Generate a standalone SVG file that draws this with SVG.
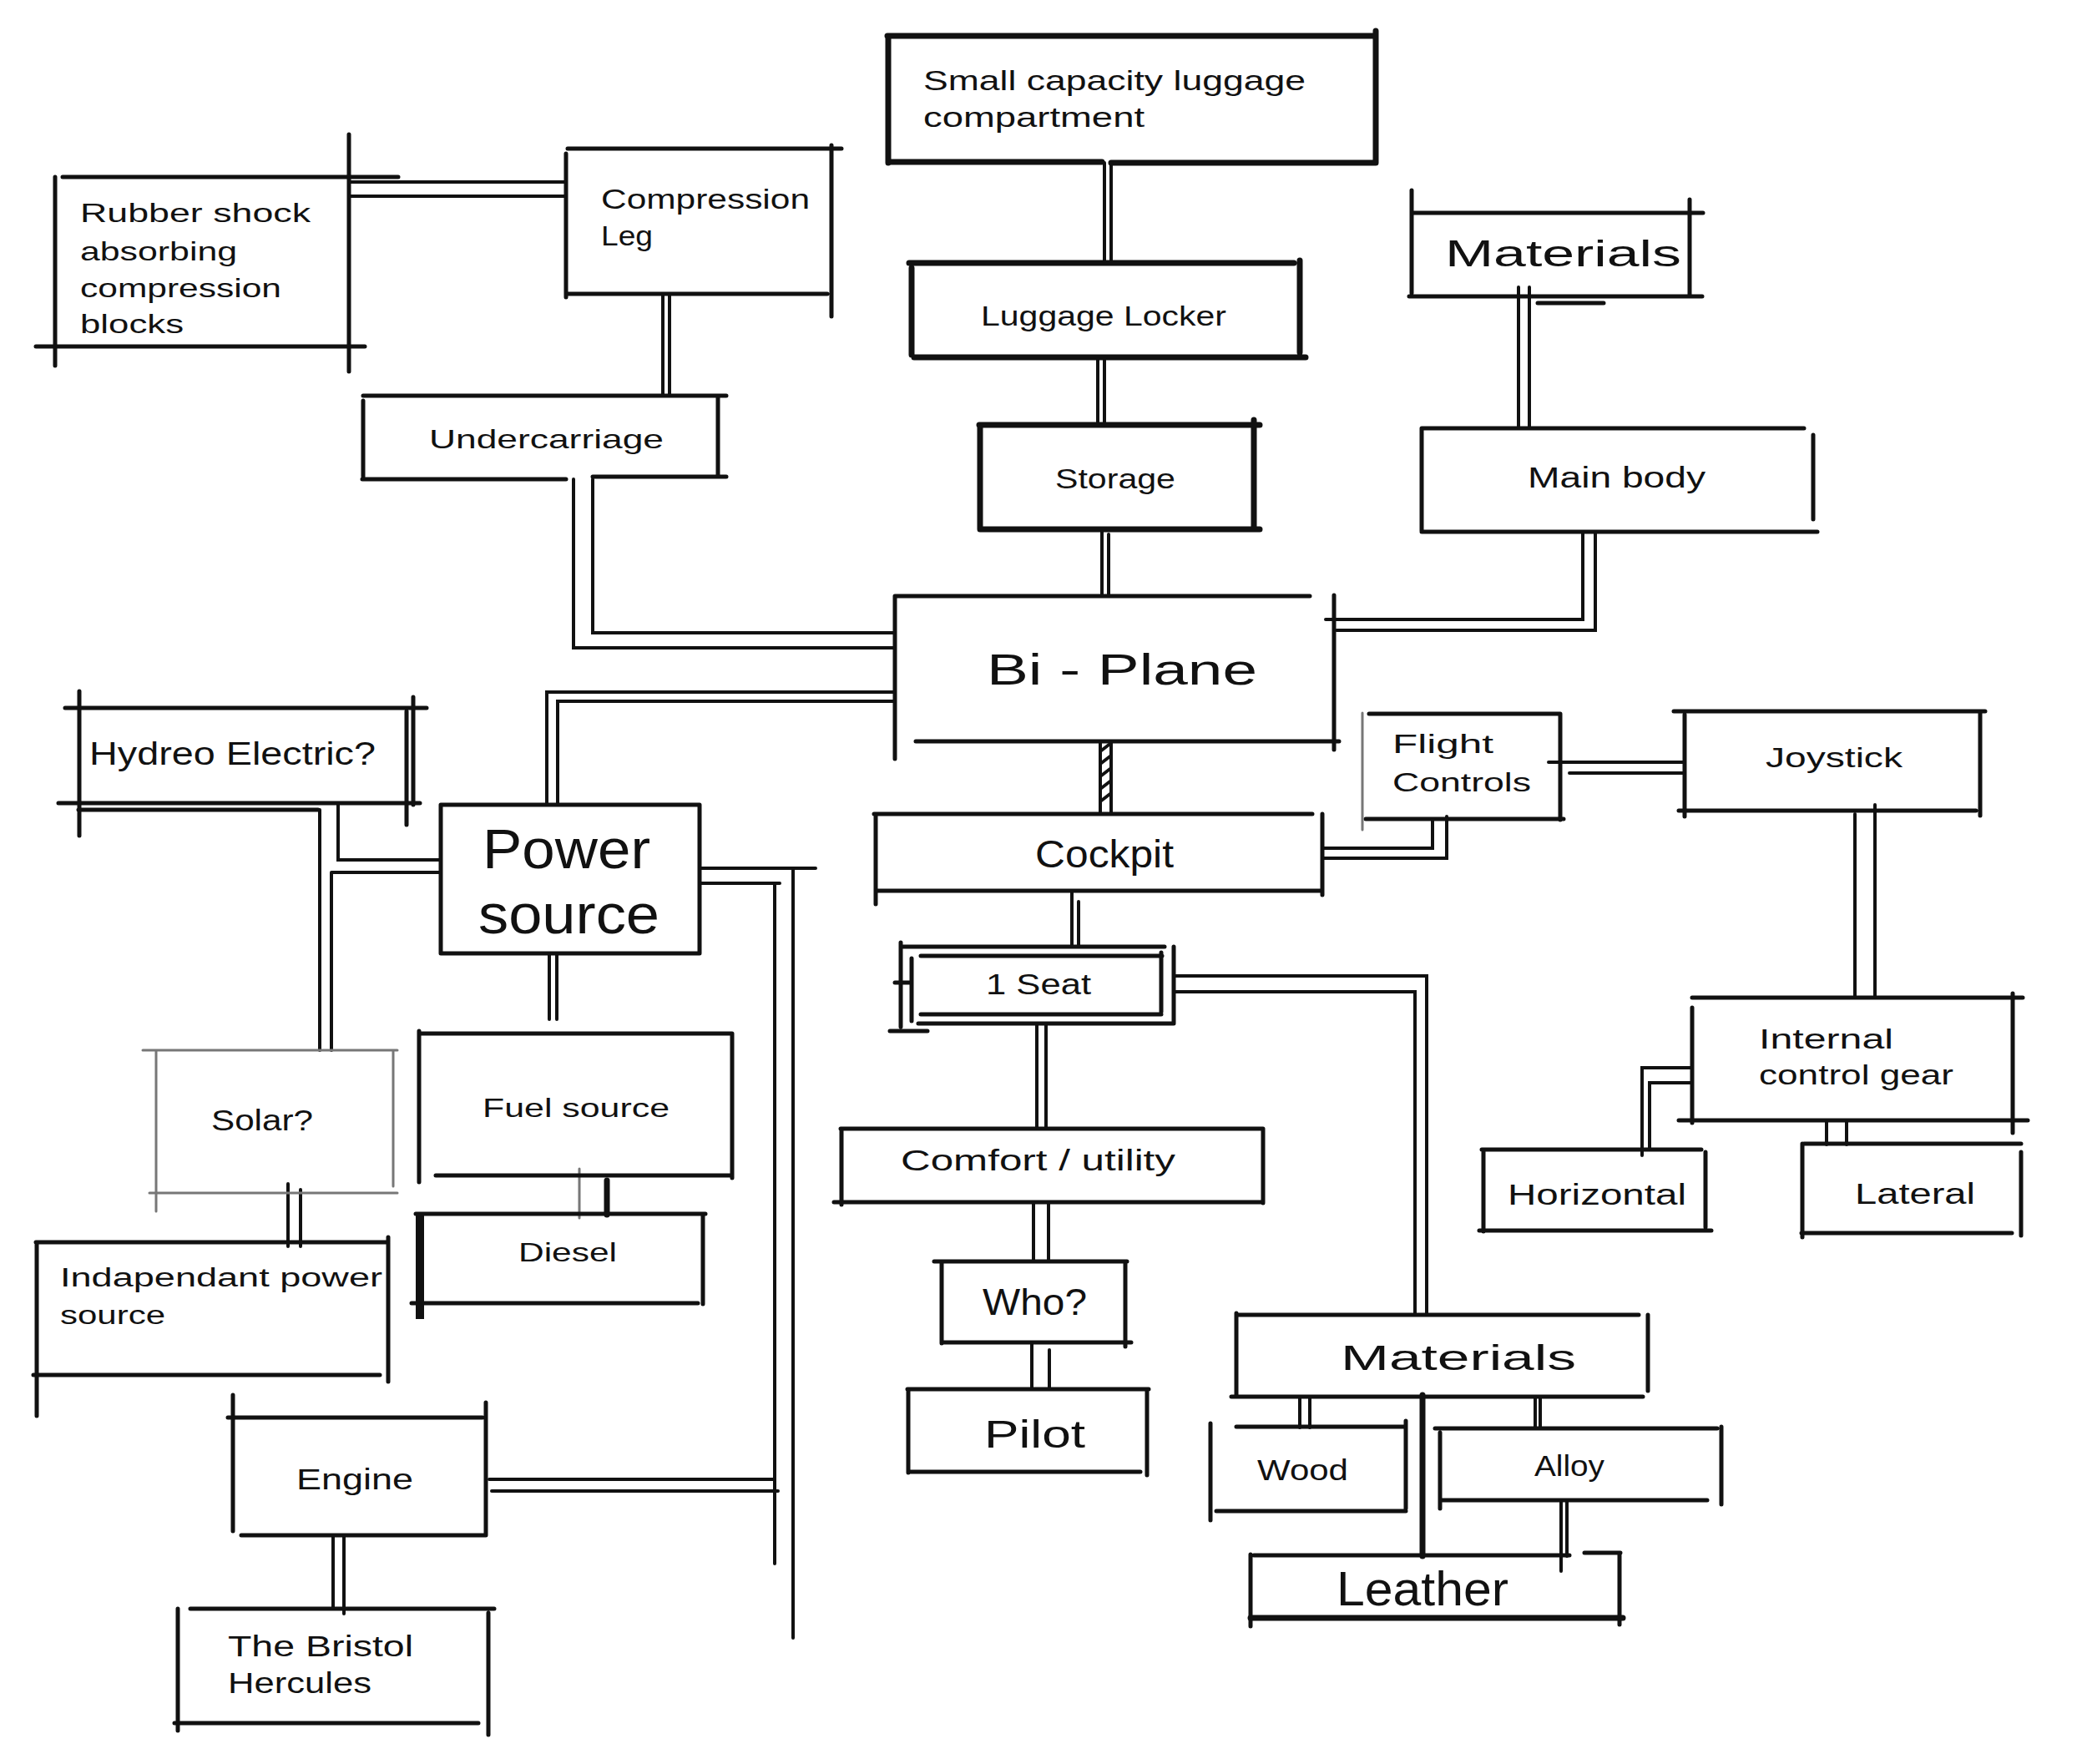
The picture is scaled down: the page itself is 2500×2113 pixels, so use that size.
<svg xmlns="http://www.w3.org/2000/svg" width="2500" height="2113" viewBox="0 0 2500 2113">
<style>
.l{stroke:#111;stroke-width:5;stroke-linecap:round;fill:none}
.k{stroke:#111;stroke-width:7;stroke-linecap:round;fill:none}
.g{stroke:#777;stroke-width:3;stroke-linecap:round;fill:none}
.c{stroke:#111;stroke-width:4;stroke-linecap:round;fill:none}
.t{font-family:"Liberation Sans","DejaVu Sans",sans-serif;fill:#111}
</style>
<rect width="2500" height="2113" fill="#fff"/>
<g id="connectors">
<path class="c" d="M418 218 H676 M420 235 H676"/>
<path class="c" d="M794 352 V473 M802 352 V473"/>
<path class="c" d="M710 574 V758 H1072 M687 574 V776 H1072"/>
<path class="c" d="M655 962 V829 H1072 M668 962 V840 H1072"/>
<path class="c" d="M1323 195 V315 M1331 195 V315"/>
<path class="c" d="M1315 428 V507 M1323 428 V507"/>
<path class="c" d="M1320 634 V714 M1328 640 V714"/>
<path class="c" d="M1819 344 V513 M1832 344 V513"/>
<path class="c" d="M1896 637 V742 H1588 M1911 637 V755 H1601"/>
<path class="c" d="M1318 890 V975 M1331 888 V975 M1318 900 L1331 890 M1318 915 L1331 905 M1318 930 L1331 920 M1318 945 L1331 935 M1318 960 L1331 950"/>
<path class="c" d="M1284 1067 V1134 M1292 1080 V1134"/>
<path class="c" d="M1584 1016 H1716 V981 M1584 1028 H1733 V978"/>
<path class="c" d="M1855 913 H2018 M1880 926 H2018"/>
<path class="c" d="M2222 975 V1194 M2246 964 V1194"/>
<path class="c" d="M2027 1279 H1967 V1384 M2027 1297 H1976 V1377"/>
<path class="c" d="M2188 1342 V1371 M2212 1342 V1371"/>
<path class="c" d="M1242 1226 V1352 M1253 1226 V1352"/>
<path class="c" d="M1406 1169 H1709 V1575 M1406 1188 H1695 V1575"/>
<path class="c" d="M1238 1440 V1511 M1256 1440 V1511"/>
<path class="c" d="M1236 1608 V1664 M1257 1617 V1664"/>
<path class="c" d="M1557 1673 V1710 M1569 1673 V1710"/>
<path class="k" d="M1704 1671 V1864"/>
<path class="c" d="M1839 1673 V1711 M1845 1673 V1711"/>
<path class="c" d="M1870 1797 V1882 M1877 1797 V1864"/>
<path class="c" d="M405 962 V1030 H528 M383 970 V1258 M397 1045 H528 M397 1045 V1258"/>
<path class="c" d="M658 1142 V1221 M667 1142 V1221"/>
<path class="c" d="M838 1040 H977 M838 1058 H934 M950 1040 V1962 M928 1058 V1873 M586 1772 H928 M589 1786 H932"/>
<path class="g" d="M694 1400 V1459"/>
<path class="k" d="M727 1414 V1455"/>
<path class="c" d="M345 1418 V1493 M360 1425 V1493"/>
<path class="c" d="M399 1839 V1927 M412 1839 V1933"/>
</g>
<g id="rubber">
<path class="l" d="M66 212 V438 M75 212 H477 M43 415 H437 M418 161 V445"/>
<text class="t" font-size="32" x="96" y="266" textLength="276" lengthAdjust="spacingAndGlyphs">Rubber shock</text>
<text class="t" font-size="32" x="96" y="312" textLength="188" lengthAdjust="spacingAndGlyphs">absorbing</text>
<text class="t" font-size="32" x="96" y="356" textLength="241" lengthAdjust="spacingAndGlyphs">compression</text>
<text class="t" font-size="32" x="96" y="399" textLength="124" lengthAdjust="spacingAndGlyphs">blocks</text>
</g>
<g id="compression-leg">
<path class="l" d="M678 184 V356 M680 178 H1008 M678 352 H991 M996 174 V379"/>
<text class="t" font-size="34" x="720" y="250" textLength="250" lengthAdjust="spacingAndGlyphs">Compression</text>
<text class="t" font-size="34" x="720" y="294" textLength="62" lengthAdjust="spacingAndGlyphs">Leg</text>
</g>
<g id="undercarriage">
<path class="l" d="M435 474 H870 M435 480 V571 M434 574 H678 M710 571 H870 M860 474 V571"/>
<text class="t" font-size="32" x="514" y="537" textLength="281" lengthAdjust="spacingAndGlyphs">Undercarriage</text>
</g>
<g id="small-capacity">
<path class="k" d="M1063 43 H1647 M1064 43 V195 M1648 37 V195 M1064 194 H1320 M1331 195 H1648"/>
<text class="t" font-size="34" x="1106" y="108" textLength="458" lengthAdjust="spacingAndGlyphs">Small capacity luggage</text>
<text class="t" font-size="34" x="1106" y="152" textLength="265" lengthAdjust="spacingAndGlyphs">compartment</text>
</g>
<g id="luggage-locker">
<path class="k" d="M1089 315 H1550 M1092 321 V425 M1557 312 V422 M1095 428 H1564"/>
<text class="t" font-size="34" x="1175" y="390" textLength="294" lengthAdjust="spacingAndGlyphs">Luggage Locker</text>
</g>
<g id="storage">
<path class="k" d="M1173 509 H1509 M1174 509 V634 M1502 503 V631 M1174 634 H1509"/>
<text class="t" font-size="34" x="1264" y="585" textLength="144" lengthAdjust="spacingAndGlyphs">Storage</text>
</g>
<g id="materials-top">
<path class="l" d="M1691 255 H2040 M1691 228 V351 M2024 239 V354 M1688 355 H2039 M1842 363 H1921"/>
<text class="t" font-size="44" x="1731" y="319" textLength="283" lengthAdjust="spacingAndGlyphs">Materials</text>
</g>
<g id="main-body">
<path class="l" d="M1703 513 H2161 M1703 513 V636 M2172 521 V622 M1703 637 H2177"/>
<text class="t" font-size="35" x="1830" y="584" textLength="213" lengthAdjust="spacingAndGlyphs">Main body</text>
</g>
<g id="bi-plane">
<path class="l" d="M1072 714 H1569 M1072 714 V909 M1598 713 V898 M1097 888 H1604"/>
<text class="t" font-size="52" x="1182" y="820" textLength="324" lengthAdjust="spacingAndGlyphs">Bi - Plane</text>
</g>
<g id="cockpit">
<path class="l" d="M1047 975 H1572 M1049 975 V1083 M1584 975 V1072 M1049 1067 H1584"/>
<text class="t" font-size="46" x="1240" y="1039" textLength="166" lengthAdjust="spacingAndGlyphs">Cockpit</text>
</g>
<g id="flight-controls">
<path class="l" d="M1640 855 H1869 M1869 855 V982 M1636 981 H1873"/>
<path class="g" d="M1632 854 V994"/>
<text class="t" font-size="32" x="1668" y="902" textLength="121" lengthAdjust="spacingAndGlyphs">Flight</text>
<text class="t" font-size="32" x="1668" y="948" textLength="166" lengthAdjust="spacingAndGlyphs">Controls</text>
</g>
<g id="joystick">
<path class="l" d="M2005 852 H2378 M2018 856 V978 M2372 854 V977 M2011 971 H2367"/>
<text class="t" font-size="34" x="2115" y="919" textLength="164" lengthAdjust="spacingAndGlyphs">Joystick</text>
</g>
<g id="internal-control-gear">
<path class="l" d="M2027 1195 H2423 M2027 1207 V1345 M2411 1190 V1357 M2011 1342 H2429"/>
<text class="t" font-size="33" x="2107" y="1256" textLength="161" lengthAdjust="spacingAndGlyphs">Internal</text>
<text class="t" font-size="33" x="2107" y="1299" textLength="233" lengthAdjust="spacingAndGlyphs">control gear</text>
</g>
<g id="horizontal">
<path class="l" d="M1775 1377 H2038 M1777 1377 V1475 M2043 1380 V1470 M1772 1474 H2050"/>
<text class="t" font-size="35" x="1806" y="1443" textLength="214" lengthAdjust="spacingAndGlyphs">Horizontal</text>
</g>
<g id="lateral">
<path class="l" d="M2161 1370 H2421 M2159 1370 V1482 M2421 1380 V1480 M2158 1477 H2410"/>
<text class="t" font-size="35" x="2222" y="1442" textLength="144" lengthAdjust="spacingAndGlyphs">Lateral</text>
</g>
<g id="hydro-electric">
<path class="l" d="M78 848 H511 M95 828 V1001 M70 962 H503 M94 970 H381 M495 835 V964 M487 852 V988"/>
<text class="t" font-size="38" x="107" y="916" textLength="343" lengthAdjust="spacingAndGlyphs">Hydreo Electric?</text>
</g>
<g id="power-source">
<path class="l" d="M528 964 H838 M528 964 V1142 M838 964 V1142 M528 1142 H838"/>
<text class="t" font-size="66" x="578" y="1040" textLength="201" lengthAdjust="spacingAndGlyphs">Power</text>
<text class="t" font-size="66" x="573" y="1118" textLength="217" lengthAdjust="spacingAndGlyphs">source</text>
</g>
<g id="solar">
<path class="g" d="M171 1258 H476 M187 1258 V1451 M471 1258 V1421 M179 1429 H476"/>
<text class="t" font-size="35" x="253" y="1354" textLength="122" lengthAdjust="spacingAndGlyphs">Solar?</text>
</g>
<g id="fuel-source">
<path class="l" d="M502 1238 H877 M502 1235 V1416 M877 1238 V1411 M522 1408 H877"/>
<text class="t" font-size="32" x="578" y="1338" textLength="224" lengthAdjust="spacingAndGlyphs">Fuel source</text>
</g>
<g id="diesel">
<path class="l" d="M498 1454 H845 M493 1561 H836 M842 1454 V1562"/>
<path stroke="#111" stroke-width="10" fill="none" d="M503 1452 V1580"/>
<text class="t" font-size="32" x="621" y="1511" textLength="118" lengthAdjust="spacingAndGlyphs">Diesel</text>
</g>
<g id="independent-power">
<path class="l" d="M43 1488 H465 M44 1488 V1696 M465 1482 V1655 M40 1647 H455"/>
<text class="t" font-size="31" x="72" y="1541" textLength="386" lengthAdjust="spacingAndGlyphs">Indapendant power</text>
<text class="t" font-size="31" x="72" y="1586" textLength="126" lengthAdjust="spacingAndGlyphs">source</text>
</g>
<g id="engine">
<path class="l" d="M273 1698 H578 M279 1671 V1834 M582 1680 V1839 M289 1839 H582"/>
<text class="t" font-size="35" x="355" y="1784" textLength="140" lengthAdjust="spacingAndGlyphs">Engine</text>
</g>
<g id="bristol-hercules">
<path class="l" d="M228 1927 H592 M213 1927 V2073 M585 1932 V2078 M209 2064 H573"/>
<text class="t" font-size="35" x="273" y="1984" textLength="222" lengthAdjust="spacingAndGlyphs">The Bristol</text>
<text class="t" font-size="35" x="273" y="2028" textLength="172" lengthAdjust="spacingAndGlyphs">Hercules</text>
</g>
<g id="one-seat">
<path class="l" d="M1079 1134 H1395 M1079 1129 V1230 M1406 1134 V1226 M1100 1226 H1406 M1066 1235 H1111"/>
<path class="l" d="M1103 1145 H1392 M1092 1148 V1223 M1391 1141 V1212 M1103 1215 H1391 M1072 1177 H1092"/>
<text class="t" font-size="35" x="1181" y="1191" textLength="126" lengthAdjust="spacingAndGlyphs">1 Seat</text>
</g>
<g id="comfort-utility">
<path class="l" d="M1007 1352 H1513 M1008 1352 V1443 M1513 1352 V1441 M999 1440 H1513"/>
<text class="t" font-size="35" x="1079" y="1402" textLength="329" lengthAdjust="spacingAndGlyphs">Comfort / utility</text>
</g>
<g id="who">
<path class="l" d="M1119 1511 H1350 M1128 1511 V1609 M1348 1511 V1613 M1128 1608 H1355"/>
<text class="t" font-size="44" x="1177" y="1575" textLength="125" lengthAdjust="spacingAndGlyphs">Who?</text>
</g>
<g id="pilot">
<path class="l" d="M1087 1664 H1376 M1088 1664 V1764 M1374 1664 V1767 M1088 1763 H1366"/>
<text class="t" font-size="46" x="1179" y="1734" textLength="121" lengthAdjust="spacingAndGlyphs">Pilot</text>
</g>
<g id="materials-bottom">
<path class="l" d="M1481 1573 V1673 M1481 1575 H1963 M1974 1575 V1666 M1475 1673 H1968"/>
<text class="t" font-size="42" x="1606" y="1641" textLength="282" lengthAdjust="spacingAndGlyphs">Materials</text>
</g>
<g id="wood">
<path class="l" d="M1450 1705 V1821 M1481 1709 H1684 M1684 1702 V1807 M1457 1810 H1684"/>
<text class="t" font-size="35" x="1506" y="1773" textLength="109" lengthAdjust="spacingAndGlyphs">Wood</text>
</g>
<g id="alloy">
<path class="l" d="M1719 1711 H2057 M1725 1716 V1807 M2062 1709 V1802 M1725 1797 H2045"/>
<text class="t" font-size="35" x="1838" y="1768" textLength="84" lengthAdjust="spacingAndGlyphs">Alloy</text>
</g>
<g id="leather">
<path class="l" d="M1498 1862 V1948 M1502 1863 H1880 M1898 1860 H1941 M1940 1862 V1946"/>
<path class="k" d="M1498 1938 H1944"/>
<text class="t" font-size="57" x="1601" y="1923" textLength="206" lengthAdjust="spacingAndGlyphs">Leather</text>
</g>
</svg>
